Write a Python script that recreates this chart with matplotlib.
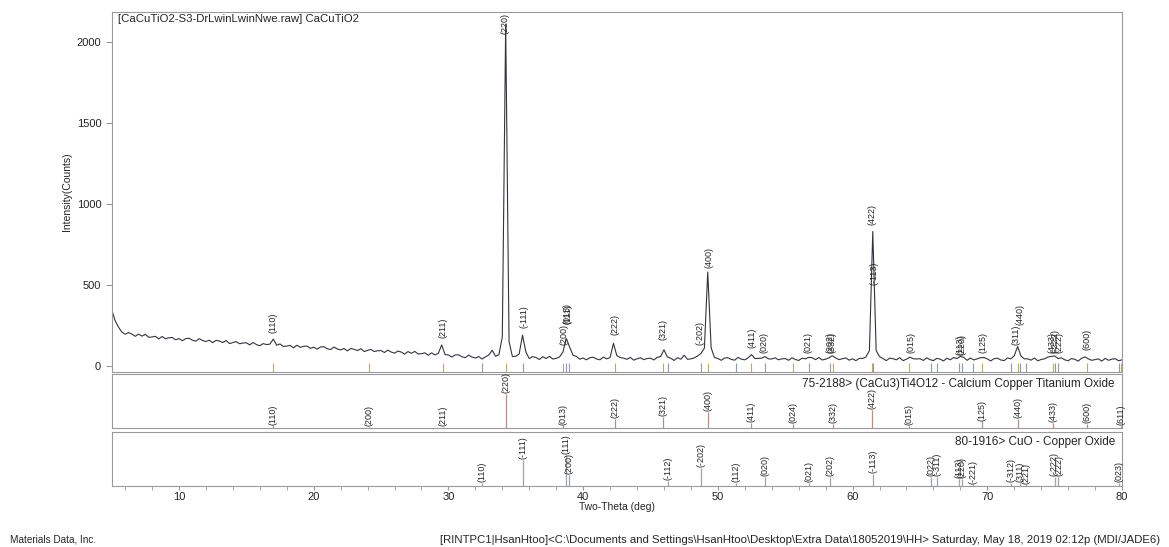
import matplotlib.pyplot as plt
from matplotlib.ticker import MultipleLocator
import numpy as np

plt.rcParams['font.family'] = ['Liberation Sans', 'DejaVu Sans']

# measured scan, 0.25 deg steps from 5 to 80 deg
scan_start, scan_step = 5.0, 0.25
counts = [
    350, 281, 241, 210, 196, 206, 197, 183, 197, 184, 195, 177, 179, 183, 167, 182, 168, 174, 176, 162,
    169, 156, 169, 171, 159, 153, 169, 157, 151, 159, 144, 158, 154, 145, 157, 138, 145, 150, 137, 142,
    143, 130, 145, 132, 125, 138, 132, 135, 166, 128, 136, 120, 123, 127, 112, 128, 115, 121, 123, 109,
    116, 104, 117, 119, 107, 101, 117, 105, 99, 108, 93, 108, 103, 95, 107, 89, 96, 102, 89, 94,
    95, 83, 98, 86, 79, 92, 86, 73, 89, 78, 90, 74, 76, 81, 66, 81, 68, 78, 130, 70,
    68, 55, 68, 69, 57, 51, 67, 55, 49, 58, 43, 56, 68, 97, 60, 70, 180, 2110, 150, 58,
    60, 74, 190, 86, 46, 58, 52, 40, 57, 46, 59, 43, 47, 56, 86, 170, 116, 66, 59, 42,
    49, 38, 51, 54, 43, 38, 55, 44, 52, 140, 64, 52, 48, 41, 53, 36, 44, 51, 39, 46,
    48, 37, 54, 58, 100, 56, 48, 34, 51, 42, 66, 41, 44, 50, 62, 78, 110, 580, 112, 52,
    46, 35, 49, 51, 40, 36, 53, 42, 38, 50, 70, 46, 47, 48, 58, 44, 43, 50, 38, 44,
    46, 35, 51, 40, 34, 48, 44, 53, 51, 39, 52, 37, 42, 50, 63, 49, 39, 45, 49, 36,
    44, 33, 47, 46, 56, 95, 830, 95, 58, 46, 33, 48, 45, 38, 51, 33, 42, 54, 45, 43,
    45, 34, 50, 39, 33, 47, 42, 31, 48, 38, 52, 46, 59, 53, 35, 49, 37, 44, 51, 52,
    44, 31, 45, 48, 37, 33, 50, 44, 63, 120, 61, 44, 44, 36, 49, 32, 40, 44, 55, 59,
    62, 46, 50, 38, 32, 46, 41, 30, 48, 56, 44, 35, 39, 44, 30, 47, 35, 42, 45, 32,
    38,
]

# 75-2188 (CaCu3)Ti4O12 reference lines
ccto_hkl = ['(110)', '(200)', '(211)', '(220)', '(013)', '(222)', '(321)', '(400)', '(411)',
            '(024)', '(332)', '(422)', '(015)', '(125)', '(440)', '(433)', '(600)', '(611)']
ccto_2theta = [16.95, 24.07, 29.58, 34.29, 38.49, 42.33, 45.91, 49.29, 52.49,
               55.57, 58.54, 61.41, 64.22, 69.62, 72.26, 74.86, 77.42, 79.95]
ccto_int = [8, 3, 4, 100, 8, 28, 32, 48, 16, 12, 12, 54, 7, 20, 28, 16, 12, 7]

# 80-1916 CuO reference lines
cuo_hkl = ['(110)', '(-111)', '(111)', '(200)', '(-112)', '(-202)', '(112)', '(020)', '(021)',
           '(202)', '(-113)', '(022)', '(-311)', '(113)', '(220)', '(-221)', '(-312)', '(311)',
           '(221)', '(-222)', '(222)', '(023)']
cuo_2theta = [32.50, 35.54, 38.73, 38.93, 46.27, 48.72, 51.37, 53.49, 56.74,
              58.32, 61.55, 65.81, 66.24, 67.93, 68.13, 68.92, 71.73, 72.40,
              72.86, 75.06, 75.25, 79.78]
cuo_int = [10, 84, 100, 36, 16, 58, 11, 29, 11, 29, 39, 29, 29, 23, 23, 6, 11, 11, 6, 29, 29, 11]

# peak labels on the measured pattern: (text, two-theta, label base in counts)
scan_labels = [
    ('(110)', 16.95, 205), ('(211)', 29.6, 173), ('(-111)', 35.6, 235),
    ('(200)', 38.6, 130), ('(013)', 38.78, 262), ('(111)', 38.88, 262),
    ('(222)', 42.4, 190), ('(321)', 45.95, 160), ('(-202)', 48.65, 130),
    ('(400)', 49.35, 605), ('(411)', 52.5, 112), ('(020)', 53.45, 82),
    ('(021)', 56.7, 82), ('(202)', 58.35, 82), ('(332)', 58.5, 82),
    ('(422)', 61.45, 870), ('(-113)', 61.62, 500), ('(015)', 64.3, 82),
    ('(113)', 68.0, 70), ('(220)', 68.15, 70), ('(125)', 69.7, 82),
    ('(311)', 72.15, 130), ('(440)', 72.4, 255), ('(433)', 74.8, 82),
    ('(-222)', 75.05, 82), ('(222)', 75.3, 82), ('(600)', 77.4, 100),
]

two_theta = scan_start + scan_step * np.arange(len(counts))

frame_col = '#9a9a9a'
text_col = '#252525'
ccto_col = '#c4a86a'
cuo_col = '#8c98a8'
narrow = ['Liberation Sans Narrow', 'Liberation Sans']

fig = plt.figure(figsize=(11.69, 5.47), dpi=100)
ax = fig.add_axes([0.0955, 0.32, 0.8643, 0.658])
ax_c = fig.add_axes([0.0955, 0.2175, 0.8643, 0.0987])
ax_o = fig.add_axes([0.0955, 0.1115, 0.8643, 0.0987])

for a in (ax, ax_c, ax_o):
    a.set_xlim(5, 80)
    for s in a.spines.values():
        s.set_color(frame_col)
        s.set_linewidth(0.8)

# measured pattern
ax.plot(two_theta, counts, color='#34343f', lw=0.8)
ax.set_ylim(-37, 2185)
ax.set_yticks([0, 500, 1000, 1500, 2000])
ax.tick_params(axis='y', direction='out', length=4, color=frame_col, labelsize=8,
               labelcolor=text_col)
ax.tick_params(axis='x', bottom=False, labelbottom=False)
ax.set_ylabel('Intensity(Counts)', fontsize=7.5, color=text_col, labelpad=3, family=narrow)

# reference line markers along the bottom of the scan
ax.vlines(ccto_2theta, -37, 18, color=ccto_col, lw=0.8)
ax.vlines(cuo_2theta, -37, 18, color=cuo_col, lw=0.8)

ax.text(5.5, 2175, '[CaCuTiO2-S3-DrLwinLwinNwe.raw] CaCuTiO2', fontsize=8.2,
        color=text_col, ha='left', va='top')
ax.text(34.2, 2178, '(220)', rotation=90, fontsize=6.5, color=text_col, ha='center', va='top')
for lab, x, y in scan_labels:
    ax.text(x, y, lab, rotation=90, fontsize=6.5, color=text_col, ha='center', va='bottom')


def stick_panel(a, pos, inten, hkl, col, top, caption, nudge):
    a.vlines(pos, 0, inten, color=col, lw=0.9)
    a.set_ylim(0, top)
    a.set_yticks([])
    for lab, x, h in zip(hkl, pos, inten):
        a.text(x + nudge.get(lab, 0), h + 2, lab, rotation=90, fontsize=6.5,
               color=text_col, ha='center', va='bottom')
    a.text(0.993, 0.93, caption, transform=a.transAxes, fontsize=8.5,
           color=text_col, ha='right', va='top')


stick_panel(ax_c, ccto_2theta, ccto_int, ccto_hkl, '#b8907a', 159,
            '75-2188> (CaCu3)Ti4O12 - Calcium Copper Titanium Oxide', {})
stick_panel(ax_o, cuo_2theta, cuo_int, cuo_hkl, '#9aa4ae', 174,
            '80-1916> CuO - Copper Oxide', {'(-222)': -0.1, '(222)': 0.1})

ax_c.tick_params(axis='x', bottom=False, labelbottom=False)
ax_o.xaxis.set_major_locator(MultipleLocator(10))
ax_o.xaxis.set_minor_locator(MultipleLocator(2))
ax_o.tick_params(axis='x', which='both', direction='out', length=3, color=frame_col,
                 labelsize=8, labelcolor=text_col, pad=1)
ax_o.set_xlabel('Two-Theta (deg)', fontsize=7.5, color=text_col, labelpad=0, family=narrow)

fig.text(10 / 1169, 1 - 540 / 547, 'Materials Data, Inc.', fontsize=7.2,
         color=text_col, ha='left', va='center')
fig.text(440 / 1169, 1 - 540 / 547,
         '[RINTPC1|HsanHtoo]<C:\\Documents and Settings\\HsanHtoo\\Desktop\\Extra Data\\18052019\\HH> '
         'Saturday, May 18, 2019 02:12p (MDI/JADE6)',
         fontsize=8.2, color=text_col, ha='left', va='center')

fig.savefig('out.png', dpi=100)
